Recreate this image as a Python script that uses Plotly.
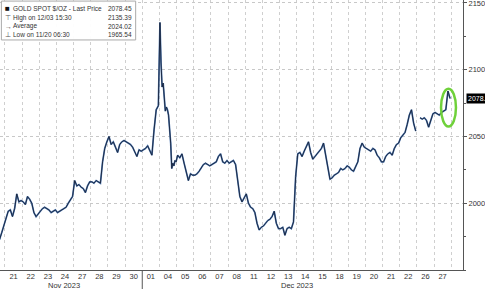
import plotly.graph_objects as go

# Trading sessions (day index 0 = Nov 20)
session_labels = ["20", "21", "22", "23", "24", "27", "28", "29", "30",
                  "01", "04", "05", "06", "07", "08", "11", "12", "13", "14", "15",
                  "18", "19", "20", "21", "22", "26", "27"]

# Intraday prices per session (equally spaced within each session)
intraday = [
    [1966, 1968, 1970, 1972, 1971, 1973, 1978, 1983],                       # Nov 20
    [1989, 1994, 1995, 1990, 1996, 2007, 2001, 2002],                       # 21
    [2001, 1999, 2005, 2003, 2000, 1993, 1990, 1992],                       # 22
    [1994, 1996, 1997, 1996, 1995, 1993, 1994, 1995],                       # 23
    [1993, 1994, 1995, 1996, 1997, 2000, 2003, 2005],                       # 24
    [2017, 2013, 2014, 2012, 2011, 2008, 2013, 2016],                       # 27
    [2016, 2015, 2017, 2016, 2015, 2031, 2041, 2046],                       # 28
    [2050, 2044, 2046, 2042, 2038, 2044, 2046, 2047],                       # 29
    [2046, 2045, 2044, 2042, 2038, 2035, 2040, 2039],                       # 30
    [2040, 2041, 2043, 2040, 2036, 2055, 2070, 2073],                       # Dec 01
    [2135.39, 2105, 2087, 2090, 2078, 2069, 2072, 2070,
     2066, 2055, 2045, 2026, 2030, 2028, 2032, 2031],                       # 04
    [2036, 2034, 2037, 2030, 2024, 2017, 2022, 2021],                       # 05
    [2021, 2022, 2024, 2027, 2029, 2030, 2029, 2028],                       # 06
    [2029, 2030, 2031, 2035, 2037, 2031, 2030, 2032],                       # 07
    [2030, 2031, 2032, 2029, 2018, 2005, 2001, 2004],                       # 08
    [2007, 2000, 1997, 1996, 1993, 1985, 1980, 1982],                       # 11
    [1983, 1985, 1987, 1988, 1990, 1994, 1985, 1981],                       # 12
    [1981, 1982, 1976, 1981, 1982, 1981, 1986, 2020],                       # 13
    [2037, 2038, 2035, 2039, 2042, 2046, 2038, 2033],                       # 14
    [2035, 2037, 2039, 2041, 2045, 2036, 2024, 2018],                       # 15
    [2019, 2021, 2022, 2023, 2026, 2025, 2026, 2028],                       # 18
    [2027, 2025, 2024, 2027, 2031, 2041, 2045, 2042],                       # 19
    [2041, 2040, 2039, 2041, 2040, 2036, 2034, 2031],                       # 20
    [2031, 2035, 2037, 2038, 2036, 2041, 2044, 2045],                       # 21
    [2049, 2051, 2053, 2059, 2066, 2070, 2060, 2054],                       # 22
    [None, 2064, 2063, 2064, 2062, 2057, 2062, 2067],                       # 26
    [2068, 2067, 2066, 2068, 2069, 2070, 2084, 2078.45],                    # 27
]

legend_names = ["GOLD SPOT $/OZ - Last Price", "High on 12/03 15:30", "Average", "Low on 11/20 06:30"]
legend_values = ["2078.45", "2135.39", "2024.02", "1965.54"]
legend_icons = ["\u25A0", "\u22A4", "\u2192", "\u22A5"]
last_price = 2078.45
y_ticks = [2000, 2050, 2100, 2150]
month_labels = ["Nov 2023", "Dec 2023"]

xs, ys = [], []
for k, vals in enumerate(intraday):
    n = len(vals)
    for j, v in enumerate(vals):
        xs.append(k + (j + 0.5) / n)
        ys.append(v)

fig = go.Figure()
fig.add_trace(go.Scatter(x=xs, y=ys, mode="lines",
                         line=dict(color="#4f78b0", width=1.7), hoverinfo="skip"))
fig.add_trace(go.Scatter(x=xs, y=ys, mode="lines",
                         line=dict(color="#17223a", width=0.9)))

FONT = "Liberation Sans"
fig.update_layout(
    width=485, height=289,
    margin=dict(l=0, r=22, t=0, b=19),
    paper_bgcolor="white", plot_bgcolor="white",
    showlegend=False,
    font=dict(family=FONT, size=8, color="#333"),
    xaxis=dict(
        range=[0.71, 27.69],
        tickvals=[k + 0.5 for k in range(1, len(session_labels))],
        ticktext=session_labels[1:],
        showgrid=False, zeroline=False,
        showline=True, linecolor="#555", linewidth=1,
        ticks="", tickfont=dict(size=7.5, color="#333"),
        ticklabelstandoff=-1,
        minor=dict(tick0=0, dtick=1, showgrid=True, gridcolor="#cfcfcf",
                   griddash="dot", gridwidth=1, ticks=""),
    ),
    yaxis=dict(
        side="right", range=[1950, 2152.2],
        tickvals=y_ticks, showgrid=True, gridcolor="#c8c8c8", griddash="dot",
        zeroline=False, showline=True, linecolor="#555", linewidth=1,
        ticks="outside", ticklen=3, tickcolor="#555",
        tickfont=dict(size=7.5, color="#333"),
        ticklabeloverflow="allow",
        minor=dict(dtick=25, tick0=0, ticks="outside", ticklen=2, tickcolor="#555", showgrid=False),
    ),
)

# legend box
fig.add_shape(type="rect", xref="paper", yref="paper",
              x0=0.003, x1=0.293, y0=0.852, y1=0.996,
              line=dict(color="#aaa", width=1), fillcolor="rgba(255,255,255,0.95)")
row_y = [0.967, 0.934, 0.903, 0.873]
for i in range(4):
    fig.add_annotation(xref="paper", yref="paper", x=0.006, y=row_y[i], text=legend_icons[i],
                       showarrow=False, xanchor="left", yanchor="middle",
                       font=dict(size=8 if i == 0 else 7, color="#111" if i == 0 else "#555"))
    fig.add_annotation(xref="paper", yref="paper", x=0.024, y=row_y[i], text=legend_names[i],
                       showarrow=False, xanchor="left", yanchor="middle",
                       font=dict(size=6.5, color="#333"))
    fig.add_annotation(xref="paper", yref="paper", x=0.289, y=row_y[i], text=legend_values[i],
                       showarrow=False, xanchor="right", yanchor="middle",
                       font=dict(size=6.5, color="#333"))

# last price tag
fig.add_annotation(xref="paper", yref="y", x=1.0, y=last_price, text=str(last_price),
                   showarrow=False, xanchor="left", yanchor="middle", xshift=3,
                   bgcolor="black", font=dict(size=7, color="white"), borderpad=1)

# month labels
for mx, mlabel in zip([4.45, 18.0], month_labels):
    fig.add_annotation(xref="x", yref="paper", x=mx, y=-0.056, text=mlabel,
                       showarrow=False, yanchor="middle", borderpad=0,
                       font=dict(size=7.5, color="#333"))
# month separator
fig.add_shape(type="line", xref="x", yref="paper", x0=9, x1=9, y0=0, y1=-0.075,
              line=dict(color="#555", width=1))

# green highlight ellipse
fig.add_shape(type="circle", xref="x", yref="y", x0=26.41, x1=27.28, y0=2057.5, y1=2085.8,
              line=dict(color="#6fd13a", width=2.5))

fig.write_html("out.html")
